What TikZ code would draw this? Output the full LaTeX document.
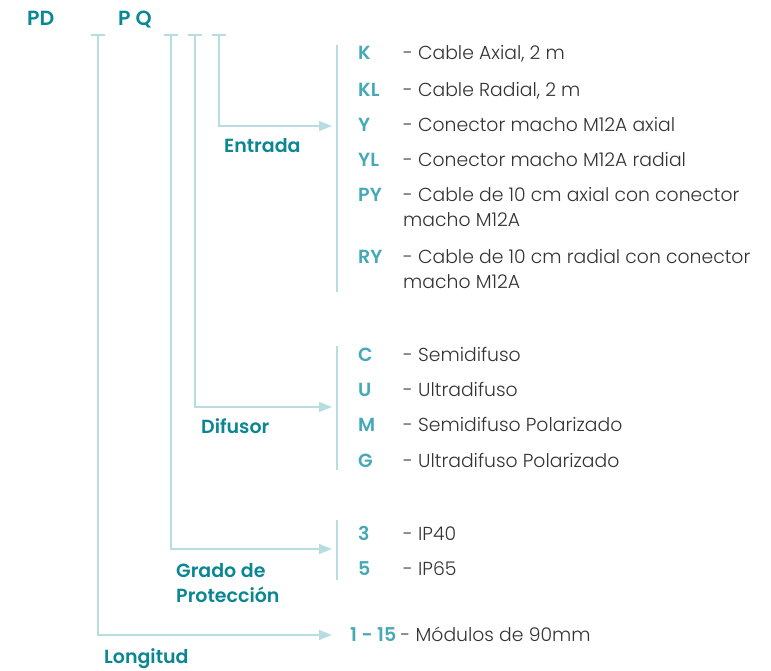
\documentclass[tikz,border=0pt]{standalone}
\usepackage{fontspec}
\setmainfont{Poppins}[UprightFont=* Light, BoldFont=* SemiBold]
\usetikzlibrary{arrows.meta}
\definecolor{dteal}{HTML}{0A8792}
\definecolor{lteal}{HTML}{46A9B7}
\definecolor{lline}{HTML}{B7DDE3}
\definecolor{txt}{HTML}{333333}
\tikzset{
  lbl/.style={anchor=base west, inner sep=0pt, text=dteal, font=\fontsize{19}{25}\selectfont\bfseries},
  code/.style={anchor=base west, inner sep=0pt, text=lteal, font=\fontsize{19}{22}\selectfont\bfseries},
  desc/.style={anchor=base west, inner sep=0pt, text=txt, font=\fontsize{18.8}{25}\selectfont, align=left},
  hdr/.style={lbl, font=\fontsize{20.5}{24}\selectfont\bfseries},
  conn/.style={draw=lline, line width=1.4pt},
  arr/.style={conn, -{Triangle[length=13pt,width=10pt]}},
}
\begin{document}
\begin{tikzpicture}[x=1pt,y=-1pt]
\useasboundingbox (0,0) rectangle (771,671);
% header
\node[hdr] (pd) at (27,26) {PD};
\node[hdr] (pq) at (118,26) {P Q};
% ticks
\foreach \n/\x in {tl/98, tg/171, tf/195, te/219}{
  \coordinate (\n) at (\x,35);
  \draw[conn] (\x-7,35) -- (\x+7,35);
}
% targets
\coordinate (ee) at (332,126);
\coordinate (fe) at (332,407);
\coordinate (ge) at (332,549);
\coordinate (le) at (332,635);
\draw[arr] (te) |- (ee);
\draw[arr] (tf) |- (fe);
\draw[arr] (tg) |- (ge);
\draw[arr] (tl) |- (le);
% brackets
\draw[conn] (337,45) -- (337,292);
\draw[conn] (337,346) -- (337,470);
\draw[conn] (337,520) -- (337,580);
% labels
\node[lbl] (entrada) at (224,153) {Entrada};
\node[lbl] (difusor) at (201,433) {Difusor};
\node[lbl, align=left] (grado) at (176,602) {Grado de\\Protección};
\node[lbl] (longitud) at (104,663) {Longitud};
% Entrada options
\node[code] (k) at (358,60) {K};
\node[desc] (kd) at (403,60) {- Cable Axial, 2 m};
\node[code] (kl) at (358,96.7) {KL};
\node[desc] (kld) at (403,96.7) {- Cable Radial, 2 m};
\node[code] (y) at (358,131.7) {Y};
\node[desc] (yd) at (403,131.7) {- Conector macho M12A axial};
\node[code] (yl) at (358,166.7) {YL};
\node[desc] (yld) at (403,166.7) {- Conector macho M12A radial};
\node[code] (py) at (358,201.7) {PY};
\node[desc] (pyd) at (403,226.7) {- Cable de 10 cm axial con conector\\macho M12A};
\node[code] (ry) at (358,263) {RY};
\node[desc] (ryd) at (403,288) {- Cable de 10 cm radial con conector\\macho M12A};
% Difusor options
\node[code] (c) at (358,361.5) {C};
\node[desc] (cd) at (403,361.5) {- Semidifuso};
\node[code] (u) at (358,396.5) {U};
\node[desc] (ud) at (403,396.5) {- Ultradifuso};
\node[code] (m) at (358,431.5) {M};
\node[desc] (md) at (403,431.5) {- Semidifuso Polarizado};
\node[code] (g) at (358,467.5) {G};
\node[desc] (gd) at (403,467.5) {- Ultradifuso Polarizado};
% Grado options
\node[code] (g3) at (358,540.5) {3};
\node[desc] (g3d) at (403,540.5) {- IP40};
\node[code] (g5) at (358,575.5) {5};
\node[desc] (g5d) at (403,575.5) {- IP65};
% Longitud
\node[code] (l) at (350,641.5) {1 - 15};
\node[desc, xshift=4pt] (ld) at (l.base east) {- Módulos de 90mm};
\end{tikzpicture}
\end{document}
